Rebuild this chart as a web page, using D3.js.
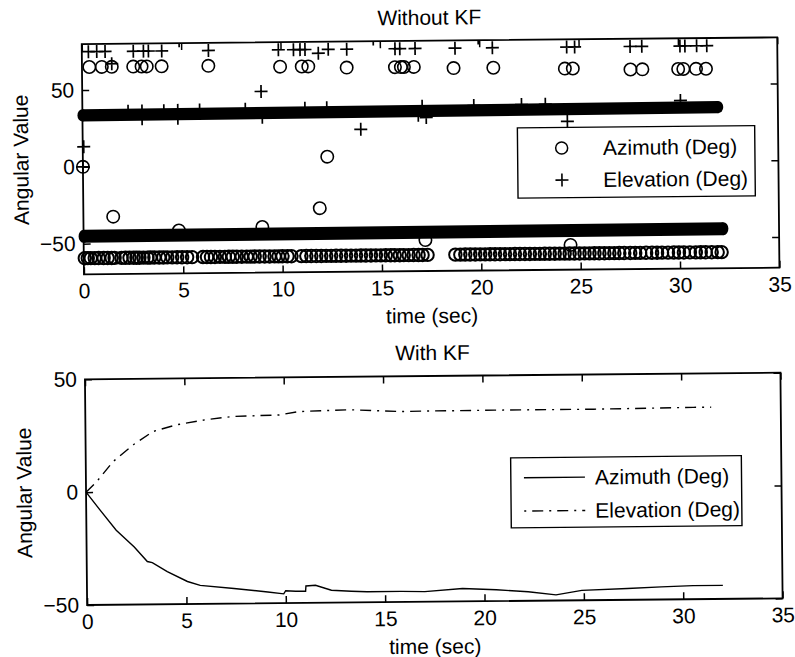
<!DOCTYPE html>
<html>
<head>
<meta charset="utf-8">
<script src="https://cdn.jsdelivr.net/npm/d3@7"></script>
<style>
  body { margin: 0; background: #fff; }
  text { font-family: "Liberation Sans", Arial, Helvetica, sans-serif; font-size: 21px; fill: #000; }
</style>
</head>
<body>
<svg width="795" height="657"></svg>
<script>
// ---- data ----
var xTicks = [0, 5, 10, 15, 20, 25, 30, 35];
var yTicksTop = [-50, 0, 50];
var yTicksBottom = [-50, 0, 50];

// Without KF: saturated marker clouds (drawn as solid bands)
var elevBand = [ { t: 0, lo: 29.5, hi: 37.5 }, { t: 32.0, lo: 31, hi: 39 } ];
var azBand = [ { t: 0, lo: -49.5, hi: -41 }, { t: 32.2, lo: -48.5, hi: -40 } ];

// Without KF: azimuth row near -59 (times of visible circles)
var azLowLevel = -59.5;
var azLowT = [0.05, 0.2, 0.35, 0.55, 0.75, 1.0, 1.2, 1.4, 1.55,
  1.9, 2.1, 2.3, 2.5, 2.65, 2.8, 3.0, 3.2, 3.35, 3.55, 3.8, 4.0, 4.2, 4.45, 4.7, 4.95, 5.2, 5.45,
  6.0, 6.2, 6.4, 6.6, 6.85, 7.1, 7.3, 7.5, 7.7, 7.95, 8.2, 8.4, 8.6, 8.85, 9.1, 9.35, 9.6, 9.8, 10.0, 10.25, 10.45,
  10.95, 11.2, 11.45, 11.7, 11.95, 12.2, 12.45, 12.7, 12.95, 13.2, 13.45, 13.7, 13.95, 14.2, 14.45, 14.7, 14.95,
  15.2, 15.45, 15.65, 15.9, 16.1, 16.35, 16.6, 16.85, 17.05, 17.3,
  18.7, 18.95, 19.2, 19.45, 19.7, 19.95, 20.2, 20.45, 20.7, 20.95, 21.2, 21.45, 21.7, 21.95, 22.2, 22.45,
  22.7, 22.95, 23.2, 23.45, 23.7, 23.95, 24.2, 24.45, 24.7, 24.95, 25.2, 25.45, 25.7, 25.95, 26.2, 26.45,
  26.7, 26.95, 27.2, 27.5, 27.75, 28.0, 28.3, 28.6, 28.85, 29.1, 29.4, 29.7, 29.95, 30.2, 30.5, 30.8,
  31.05, 31.3, 31.6, 31.9, 32.1];

// Without KF: azimuth circles near the top (wrapped values)
var azHighT = [0.37, 1.0, 1.5, 2.58, 3.0, 3.26, 4.01, 6.36, 9.97, 11.06, 11.39, 13.32, 15.75,
  16.05, 16.2, 16.7, 18.7, 20.7, 24.3, 24.7, 27.6, 28.2, 30.0, 30.26, 30.9, 31.4];
var azHighV = [65, 65, 65, 65, 65, 65, 65, 65, 64, 64, 64, 63, 63,
  63, 63, 63, 62, 62, 61, 61, 60, 60, 60, 60, 60, 60];

// Without KF: other azimuth outliers
var azOddT = [0.0, 1.5, 4.8, 9.0, 11.9, 12.3, 17.2, 24.5];
var azOddV = [0, -32.6, -42, -40.3, -28.4, 5.1, -49.8, -53.9];

// Without KF: elevation plus markers near the top
var elHighT = [0.33, 0.75, 1.17, 2.59, 3.1, 3.35, 4.02, 6.37, 9.89, 10.65, 10.98, 11.23, 12.4, 13.33, 15.76,
  16.0, 16.77, 18.78, 20.66, 24.4, 24.8, 27.59, 28.18, 30.1, 30.35, 30.94, 31.45];
var elHighV = [75, 75, 75, 75, 75, 75, 75, 75, 75, 75, 75, 75, 75, 75, 75,
  75, 75, 75, 75, 75, 75, 75, 75, 75, 75, 75, 75];

// Without KF: other elevation outliers
var elOddT = [0.0, 0.05, 1.5, 9.0, 11.9, 14.0, 17.3, 24.4];
var elOddV = [0, 13.1, 67, 48, 72.5, 22.7, 30, 26.6];
// markers just above the top limit (only their lower arm shows)
var elClipT = [4.9, 14.67, 19.95];
var elClipV = [81.5, 81.5, 81.5];

// Without KF: plus markers poking out of the elevation band
var elEdgeT = [2.3, 3.0, 4.1, 4.8, 5.9, 8.2, 11.2, 12.3, 17.1, 19.7, 22.1, 23.3, 30.1];
var elEdgeV = [36, 36, 36, 36.2, 36.3, 36.5, 36.8, 37, 37.3, 37.5, 37.8, 37.9, 39.5];
var elEdgeLowT = [3.0, 4.8, 9.05, 16.9];
var elEdgeLowV = [31, 31, 31.2, 31.5];

// With KF: filtered estimates
var kfAzT = [0, 0.7, 1.5, 2.4, 3.05, 3.3, 4.05, 5.06, 5.7, 7.4, 9.1, 9.9, 10.0, 10.5, 11.0, 11.02,
  11.5, 12.3, 13.3, 14.1, 15.8, 17.0, 18.9, 20.6, 22.2, 23.6, 24.9, 27.2, 28.9, 30.5, 32.0];
var kfAzV = [0, -8, -17, -24.5, -31, -31.5, -35.5, -40, -41.8, -43.3, -45, -45.9, -44.5, -44.8, -44.8, -42.5,
  -42.2, -44.5, -45, -45.3, -45.3, -45.5, -44.3, -45, -46, -47.5, -45.6, -45, -44.4, -44, -44];
var kfElT = [0, 0.54, 1.37, 2.4, 3.4, 4.55, 6.05, 7.4, 9.75, 10.75, 13.3, 15.8, 17.2, 20.6, 25.6, 30.6, 31.5];
var kfElV = [0, 4.6, 13.4, 20.8, 26.6, 29.4, 31.6, 32.9, 33.4, 34.8, 35.4, 34.4, 34.5, 34.6, 34.6, 35, 35];

// ---- layout ----
var svg = d3.select('svg');
var root = svg.append('g').attr('transform', 'rotate(-0.55, 400, 330)');

var left = 84.5, right = 780;
var top1 = { t: 41, b: 271.3 };
var top2 = { t: 376.3, b: 602 };

var x = d3.scaleLinear().domain([0, 35]).range([left, right]);
var y1 = d3.scaleLinear().domain([-70, 80]).range([top1.b, top1.t]);
var y2 = d3.scaleLinear().domain([-50, 50]).range([top2.b, top2.t]);

var plusPath = 'M-6.5,0H6.5M0,-6.5V6.5';

function frame(g, yScale, yTicks, box, title) {
  g.append('g').attr('transform', 'translate(0,' + box.b + ')')
    .call(d3.axisBottom(x).tickValues(xTicks).tickSizeInner(-7).tickSizeOuter(0).tickPadding(9))
    .call(a => a.select('.domain').remove());
  g.append('g').attr('transform', 'translate(0,' + box.t + ')')
    .call(d3.axisTop(x).tickValues(xTicks).tickSizeInner(-7).tickSizeOuter(0).tickFormat(''))
    .call(a => a.select('.domain').remove());
  g.append('g').attr('transform', 'translate(' + left + ',0)')
    .call(d3.axisLeft(yScale).tickValues(yTicks).tickSizeInner(-7).tickSizeOuter(0).tickPadding(8))
    .call(a => a.select('.domain').remove());
  g.append('g').attr('transform', 'translate(' + right + ',0)')
    .call(d3.axisRight(yScale).tickValues(yTicks).tickSizeInner(-7).tickSizeOuter(0).tickFormat(''))
    .call(a => a.select('.domain').remove());
  g.selectAll('.tick line').attr('stroke', '#000').attr('stroke-width', 1.5);
  g.selectAll('.tick text').style('font-size', '21px').style('font-family', '"Liberation Sans", Arial, sans-serif');

  g.append('rect')
    .attr('x', left).attr('y', box.t)
    .attr('width', right - left).attr('height', box.b - box.t)
    .attr('fill', 'none').attr('stroke', '#000').attr('stroke-width', 1.8);

  g.append('text').attr('x', (left + right) / 2).attr('y', box.t - 16)
    .attr('text-anchor', 'middle').text(title);
  g.append('text').attr('x', (left + right) / 2).attr('y', box.b + 52)
    .attr('text-anchor', 'middle').text('time (sec)');
  g.append('text')
    .attr('transform', 'translate(30,' + ((box.t + box.b) / 2) + ') rotate(-90)')
    .attr('text-anchor', 'middle').text('Angular Value');
}

// ---- top panel: Without KF ----
var g1 = root.append('g');
g1.append('clipPath').attr('id', 'clip1').append('rect')
  .attr('x', left).attr('y', top1.t).attr('width', right - left).attr('height', top1.b - top1.t);
var p1 = g1.append('g');

var band = d3.area().x(d => x(d.t)).y0(d => y1(d.lo)).y1(d => y1(d.hi));
p1.append('path').datum(elevBand).attr('d', band).attr('fill', '#000');
p1.append('path').datum(azBand).attr('d', band).attr('fill', '#000');
// rounded ends of the bands
[elevBand, azBand].forEach(function (b) {
  [b[0], b[b.length - 1]].forEach(function (d) {
    p1.append('ellipse').attr('cx', x(d.t)).attr('cy', (y1(d.lo) + y1(d.hi)) / 2)
      .attr('rx', 5).attr('ry', (y1(d.lo) - y1(d.hi)) / 2).attr('fill', '#000');
  });
});

function circles(g, ts, vs, sw) {
  g.selectAll(null).data(ts).enter().append('circle')
    .attr('cx', d => x(d)).attr('cy', (d, i) => y1(typeof vs === 'number' ? vs : vs[i]))
    .attr('r', 6.2).attr('fill', 'none').attr('stroke', '#000').attr('stroke-width', sw || 1.6);
}
function pluses(g, ts, vs) {
  g.selectAll(null).data(ts).enter().append('path')
    .attr('transform', (d, i) => 'translate(' + x(d) + ',' + y1(vs[i]) + ')')
    .attr('d', plusPath).attr('stroke', '#000').attr('stroke-width', 1.7).attr('fill', 'none');
}
circles(p1.append('g'), azLowT, azLowLevel, 2);
circles(p1.append('g'), azHighT, azHighV);
circles(p1.append('g'), azOddT, azOddV);
pluses(p1.append('g'), elHighT, elHighV);
pluses(p1.append('g'), elOddT, elOddV);
pluses(p1.append('g'), elEdgeT, elEdgeV);
pluses(p1.append('g'), elEdgeLowT, elEdgeLowV);
pluses(p1.append('g').attr('clip-path', 'url(#clip1)'), elClipT, elClipV);

frame(g1, y1, yTicksTop, top1, 'Without KF');

// legend (top)
var lg1 = g1.append('g');
lg1.append('rect').attr('x', 519.3).attr('y', 129).attr('width', 237.3).attr('height', 70.3)
  .attr('fill', '#fff').attr('stroke', '#000').attr('stroke-width', 1.4);
lg1.append('circle').attr('cx', 563.4).attr('cy', 149.6).attr('r', 6).attr('fill', 'none')
  .attr('stroke', '#000').attr('stroke-width', 1.5);
lg1.append('path').attr('transform', 'translate(563.4,181.6)').attr('d', plusPath)
  .attr('stroke', '#000').attr('stroke-width', 1.6);
lg1.append('text').attr('x', 604.7).attr('y', 149.6).attr('dy', '0.35em').text('Azimuth (Deg)');
lg1.append('text').attr('x', 604.7).attr('y', 181.6).attr('dy', '0.35em').text('Elevation (Deg)');

// ---- bottom panel: With KF ----
var g2 = root.append('g');
var line2 = d3.line().x(d => x(d[0])).y(d => y2(d[1]));
g2.append('path').datum(d3.zip(kfAzT, kfAzV)).attr('d', line2)
  .attr('fill', 'none').attr('stroke', '#000').attr('stroke-width', 1.4);
g2.append('path').datum(d3.zip(kfElT, kfElV)).attr('d', line2)
  .attr('fill', 'none').attr('stroke', '#000').attr('stroke-width', 1.4)
  .attr('stroke-dasharray', '11,6,2,6');

frame(g2, y2, yTicksBottom, top2, 'With KF');

// legend (bottom)
var lg2 = g2.append('g');
lg2.append('rect').attr('x', 509.4).attr('y', 458.9).attr('width', 230.7).attr('height', 70)
  .attr('fill', '#fff').attr('stroke', '#000').attr('stroke-width', 1.4);
lg2.append('line').attr('x1', 522.5).attr('x2', 583.5).attr('y1', 478.9).attr('y2', 478.9)
  .attr('stroke', '#000').attr('stroke-width', 1.4);
lg2.append('line').attr('x1', 522.5).attr('x2', 583.5).attr('y1', 512.2).attr('y2', 512.2)
  .attr('stroke', '#000').attr('stroke-width', 1.4).attr('stroke-dasharray', '2,6,11,6');
lg2.append('text').attr('x', 593.5).attr('y', 478.9).attr('dy', '0.35em').text('Azimuth (Deg)');
lg2.append('text').attr('x', 593.5).attr('y', 512.2).attr('dy', '0.35em').text('Elevation (Deg)');
</script>
</body>
</html>
